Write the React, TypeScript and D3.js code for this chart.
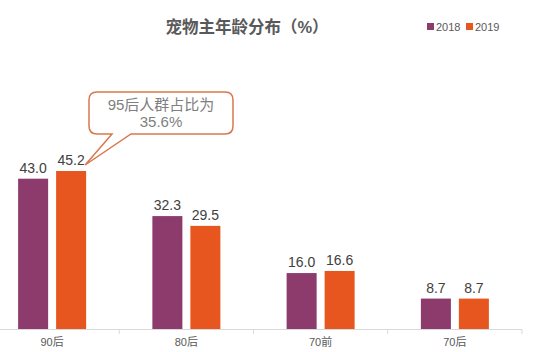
import React from 'react';
import * as d3 from 'd3';

const categories = ['90后', '80后', '70前', '70后'];
const seriesNames = ['2018', '2019'];
const values2018 = [43.0, 32.3, 16.0, 8.7];
const values2019 = [45.2, 29.5, 16.6, 8.7];
const calloutLines = ['95后人群占比为', '35.6%'];

const COLORS = ['#8d3a6c', '#e8561f'];
const W = 540;
const H = 352;
const FONT = '"Liberation Sans", Arial, "Noto Sans CJK SC", sans-serif';

export default function App() {
  const x = d3.scaleBand<string>().domain(categories).range([-15, 522]);
  const y = d3.scaleLinear().domain([0, 45.2]).range([329, 171]);
  const inner = d3.scaleBand<string>().domain(seriesNames).range([x.bandwidth() / 2 - 34, x.bandwidth() / 2 + 34]).paddingInner(0.21);

  const series = [values2018, values2019];
  // callout tip sits at the top-right corner of the 90后 / 2019 bar
  const tipX = (x('90后') ?? 0) + (inner('2019') ?? 0) + inner.bandwidth() - 1;
  const tipY = y(values2019[0]) - 6;

  // callout box
  const bx = 89, by = 92, bw = 144, bh = 42, r = 8;
  const t1 = 112, t2 = 131;
  const calloutPath = [
    `M${bx + r},${by}`,
    `H${bx + bw - r}`,
    `Q${bx + bw},${by} ${bx + bw},${by + r}`,
    `V${by + bh - r}`,
    `Q${bx + bw},${by + bh} ${bx + bw - r},${by + bh}`,
    `H${t2}`,
    `L${tipX},${tipY}`,
    `L${t1},${by + bh}`,
    `H${bx + r}`,
    `Q${bx},${by + bh} ${bx},${by + bh - r}`,
    `V${by + r}`,
    `Q${bx},${by} ${bx + r},${by}`,
    'Z',
  ].join(' ');

  const ticks = [...categories.map(c => x(c) ?? 0), x.range()[1]];

  return (
    <svg width={W} height={H} style={{ position: 'absolute', left: 0, top: 0, background: '#fff' }} fontFamily={FONT}>
      <text x={247} y={33} textAnchor="middle" fontSize={16.5} fontWeight="bold" fill="#595959">宠物主年龄分布（%）</text>

      {seriesNames.map((s, i) => (
        <g key={s} transform={`translate(${427 + i * 39},0)`}>
          <rect x={0} y={23} width={7} height={7} fill={COLORS[i]} />
          <text x={9} y={30.5} fontSize={11} fill="#595959">{s}</text>
        </g>
      ))}

      {categories.map((c, ci) => (
        <g key={c} transform={`translate(${x(c)},0)`}>
          {seriesNames.map((s, si) => {
            const v = series[si][ci];
            const bx0 = inner(s) ?? 0;
            return (
              <g key={s}>
                <rect x={bx0} y={y(v)} width={inner.bandwidth()} height={y(0) - y(v)} fill={COLORS[si]} />
                <text x={bx0 + inner.bandwidth() / 2} y={y(v) - 6} textAnchor="middle" fontSize={14} fill="#404040">{v.toFixed(1)}</text>
              </g>
            );
          })}
          <text x={x.bandwidth() / 2} y={346} textAnchor="middle" fontSize={11} fill="#595959">{c}</text>
        </g>
      ))}

      <line x1={0} x2={522} y1={329.5} y2={329.5} stroke="#d9d9d9" strokeWidth={1} />
      {ticks.map((t, i) => (
        <line key={i} x1={t} x2={t} y1={329.5} y2={334} stroke="#d9d9d9" strokeWidth={1} />
      ))}

      <path d={calloutPath} fill="#fff" stroke="#d9784e" strokeWidth={1.5} />
      {calloutLines.map((l, i) => (
        <text key={i} x={bx + bw / 2} y={by + 18 + i * 17} textAnchor="middle" fontSize={15} fill="#808080">{l}</text>
      ))}
    </svg>
  );
}
